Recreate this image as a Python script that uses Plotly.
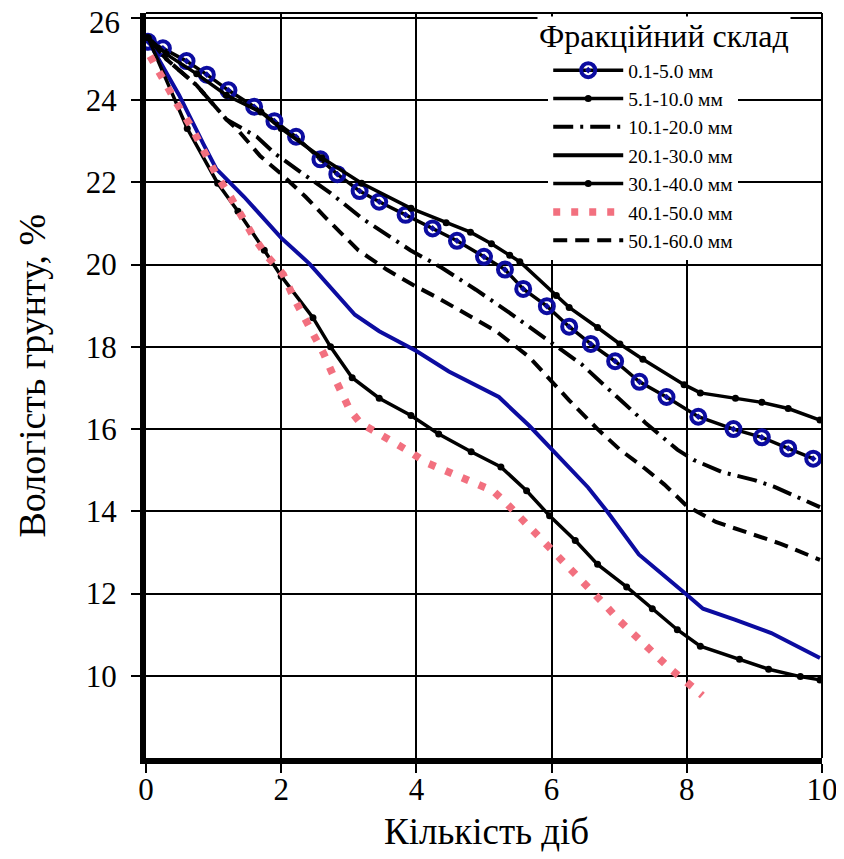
import plotly.graph_objects as go

# ---- data ----
x_ticks = [0, 2, 4, 6, 8, 10]
y_ticks = [10, 12, 14, 16, 18, 20, 22, 24]
y_top_tick = 26

legend_title = "Фракційний склад"
names = ["0.1-5.0 мм", "5.1-10.0 мм", "10.1-20.0 мм", "20.1-30.0 мм",
         "30.1-40.0 мм", "40.1-50.0 мм", "50.1-60.0 мм"]

days_f1 = [0.03, 0.25, 0.6, 0.9, 1.22, 1.6, 1.9, 2.22, 2.58, 2.83, 3.16, 3.45, 3.84, 4.24, 4.6,
           5.0, 5.31, 5.58, 5.93, 6.26, 6.58, 6.94, 7.3, 7.7, 8.17, 8.69, 9.11, 9.5, 9.87]
moist_f1 = [25.42, 25.26, 24.95, 24.62, 24.24, 23.84, 23.49, 23.11, 22.56, 22.2, 21.79, 21.53, 21.21,
            20.88, 20.58, 20.19, 19.88, 19.41, 18.99, 18.49, 18.07, 17.65, 17.15, 16.78, 16.3, 16.0,
            15.8, 15.53, 15.28]

days_f2 = [0.03, 0.3, 0.75, 1.19, 1.7, 2.0, 2.6, 3.19, 3.92, 4.44, 4.8, 5.11, 5.38, 5.53, 6.07, 6.26,
           6.68, 7.01, 7.35, 7.96, 8.2, 8.72, 9.11, 9.5, 9.97]
moist_f2 = [25.52, 25.12, 24.64, 24.12, 23.71, 23.31, 22.6, 21.98, 21.37, 21.02, 20.79, 20.51, 20.23,
            20.07, 19.25, 18.96, 18.47, 18.07, 17.7, 17.08, 16.88, 16.75, 16.65, 16.5, 16.22]

days_f3 = [0.03, 0.3, 0.75, 1.19, 1.64, 1.9, 2.31, 2.73, 3.2, 3.91, 4.37, 4.88, 5.42, 5.93, 6.44,
           6.97, 7.39, 7.86, 8.1, 8.53, 9.0, 9.29, 9.63, 9.97]
moist_f3 = [25.52, 25.0, 24.36, 23.53, 23.11, 22.71, 22.22, 21.74, 21.12, 20.35, 19.93, 19.39, 18.78,
            18.19, 17.58, 16.78, 16.15, 15.5, 15.25, 14.95, 14.76, 14.6, 14.35, 14.1]

days_f4 = [0.03, 0.49, 0.85, 1.04, 1.45, 2.0, 2.42, 3.09, 3.45, 4.0, 4.48, 5.22, 5.67, 6.01, 6.54,
           6.82, 7.29, 8.0, 8.24, 8.72, 9.25, 9.97]
moist_f4 = [25.45, 24.12, 22.93, 22.33, 21.65, 20.65, 20.02, 18.78, 18.38, 17.9, 17.4, 16.78, 16.08,
            15.5, 14.58, 14.0, 12.95, 11.97, 11.63, 11.36, 11.04, 10.43]

days_f5 = [0.03, 0.61, 1.06, 1.36, 1.75, 2.0, 2.47, 2.73, 3.05, 3.45, 3.92, 4.33, 4.81, 5.25, 5.63,
           5.97, 6.35, 6.68, 7.11, 7.49, 7.86, 8.2, 8.78, 9.21, 9.68, 9.97]
moist_f5 = [25.52, 23.31, 21.98, 21.3, 20.35, 19.72, 18.71, 18.0, 17.25, 16.75, 16.33, 15.88, 15.45,
            15.08, 14.5, 13.89, 13.29, 12.71, 12.16, 11.63, 11.12, 10.72, 10.4, 10.16, 9.98, 9.9]

days_f6 = [0.06, 0.25, 0.46, 0.66, 0.85, 1.03, 1.25, 1.45, 1.6, 1.78, 2.03, 2.19, 2.34, 2.47, 2.63,
           2.75, 2.89, 3.02, 3.17, 3.44, 3.69, 3.92, 4.15, 4.3, 4.51, 4.72, 4.91, 5.13, 5.33, 5.48,
           5.64, 5.87, 6.09, 6.3, 6.52, 6.77, 7.01, 7.22, 7.52, 7.76, 8.06, 8.23]
moist_f6 = [25.07, 24.48, 23.91, 23.38, 22.78, 22.22, 21.65, 21.05, 20.65, 20.23, 19.76, 19.18, 18.73,
            18.26, 17.83, 17.38, 16.9, 16.45, 16.15, 15.9, 15.65, 15.43, 15.18, 15.08, 14.93, 14.8,
            14.65, 14.5, 14.2, 13.95, 13.66, 13.32, 12.95, 12.58, 12.18, 11.76, 11.33, 10.99, 10.56,
            10.16, 9.76, 9.52]

days_f7 = [0.03, 0.3, 0.75, 1.19, 1.34, 1.69, 1.99, 2.36, 2.67, 3.14, 3.56, 3.98, 4.33, 4.82, 5.18,
           5.67, 6.26, 6.68, 7.01, 7.39, 7.67, 8.0, 8.43, 8.92, 9.39, 9.97]
moist_f7 = [25.52, 25.0, 24.36, 23.53, 23.31, 22.64, 22.22, 21.65, 21.12, 20.35, 19.88, 19.48, 19.18,
            18.73, 18.38, 17.75, 16.7, 16.0, 15.5, 15.03, 14.65, 14.13, 13.74, 13.47, 13.21, 12.82]

# ---- figure ----
SERIF = "Liberation Serif"
BLUE = "#0c0ca0"
PINK = "#f2707f"

fig = go.Figure()

fig.add_trace(go.Scatter(x=days_f1, y=moist_f1, name=names[0], mode="lines+markers",
                         line=dict(color="black", width=3.5),
                         marker=dict(symbol="circle-open-dot", size=14, color=BLUE,
                                     line=dict(width=4, color=BLUE))))
fig.add_trace(go.Scatter(x=days_f2, y=moist_f2, name=names[1], mode="lines+markers",
                         line=dict(color="black", width=3.5),
                         marker=dict(symbol="circle", size=7, color="black")))
fig.add_trace(go.Scatter(x=days_f3, y=moist_f3, name=names[2], mode="lines",
                         line=dict(color="black", width=4, dash="20px,7px,3px,7px")))
fig.add_trace(go.Scatter(x=[None], y=[None], name=names[3], mode="lines",
                         line=dict(color="black", width=4)))
fig.add_trace(go.Scatter(x=days_f4, y=moist_f4, name=names[3], mode="lines", showlegend=False,
                         line=dict(color=BLUE, width=4)))
fig.add_trace(go.Scatter(x=days_f5, y=moist_f5, name=names[4], mode="lines+markers",
                         line=dict(color="black", width=3.5),
                         marker=dict(symbol="circle", size=7, color="black")))
fig.add_trace(go.Scatter(x=days_f6, y=moist_f6, name=names[5], mode="lines",
                         line=dict(color=PINK, width=7.5, dash="7px,11px")))
fig.add_trace(go.Scatter(x=days_f7, y=moist_f7, name=names[6], mode="lines",
                         line=dict(color="black", width=4, dash="14px,8px")))

# page body has an 8px margin: figure is offset by 8px in the window
fig.update_layout(
    width=836, height=851,
    margin=dict(l=138, r=22, t=5, b=101, autoexpand=False),
    plot_bgcolor="white", paper_bgcolor="white",
    font=dict(family=SERIF, color="black"),
    showlegend=True,
    legend=dict(x=0.595, y=0.949, xanchor="left", yanchor="top",
                bgcolor="white", borderwidth=0,
                font=dict(family=SERIF, size=19.5, color="black"),
                itemwidth=70, tracegroupgap=0),
    xaxis=dict(range=[0, 10], tickvals=x_ticks, ticktext=[str(v) for v in x_ticks],
               showgrid=True, gridcolor="black", gridwidth=2, zeroline=False,
               showline=True, linecolor="black", linewidth=6, automargin=False,
               ticks="outside", ticklen=9, tickwidth=2, tickcolor="black",
               ticklabelstandoff=-10,
               tickfont=dict(family=SERIF, size=31)),
    yaxis=dict(range=[8, 26.12], tickvals=y_ticks + [y_top_tick],
               ticktext=[str(v) for v in y_ticks] + [""],
               showgrid=True, gridcolor="black", gridwidth=2, zeroline=False,
               showline=True, linecolor="black", linewidth=6, automargin=False,
               ticks="outside", ticklen=9, tickwidth=2, tickcolor="black",
               ticklabelstandoff=8,
               tickfont=dict(family=SERIF, size=31)),
    shapes=[
        dict(type="line", xref="paper", yref="paper", x0=0, x1=1, y0=1, y1=1,
             line=dict(color="black", width=2)),
        dict(type="line", xref="paper", yref="paper", x0=1, x1=1, y0=0, y1=1,
             line=dict(color="black", width=2)),
    ],
    annotations=[
        dict(text=str(y_top_tick), xref="paper", yref="y", x=0, y=y_top_tick,
             xanchor="right", yanchor="middle", xshift=-24, yshift=-5, showarrow=False,
             font=dict(family=SERIF, size=31)),
        dict(text=legend_title, xref="paper", yref="paper", x=0.578, y=0.969,
             xanchor="left", yanchor="middle", showarrow=False, bgcolor="white",
             font=dict(family=SERIF, size=32)),
        dict(text="Кількість діб", xref="paper", yref="paper", x=0.504, y=-0.099,
             xanchor="center", yanchor="middle", showarrow=False,
             font=dict(family=SERIF, size=37)),
        dict(text="Вологість грунту, %", xref="paper", yref="paper", x=-0.168, y=0.514,
             xanchor="center", yanchor="middle", showarrow=False, textangle=-90,
             font=dict(family=SERIF, size=38)),
    ],
)

fig.write_html("out.html")
